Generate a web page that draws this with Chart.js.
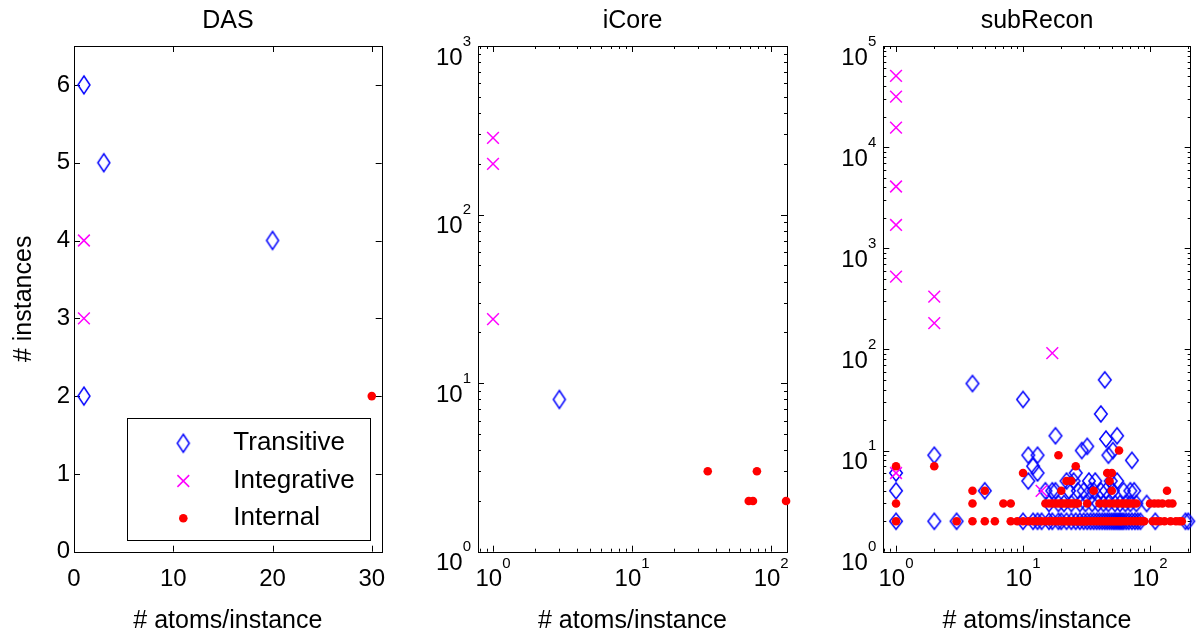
<!DOCTYPE html>
<html>
<head>
<meta charset="utf-8">
<script src="https://cdn.jsdelivr.net/npm/chart.js@4"></script>
<style>
  html, body { margin: 0; padding: 0; background: #fff; }
  #wrap { position: relative; width: 1202px; height: 636px; }
  canvas { position: absolute; top: 0; }
</style>
</head>
<body>
<div id="wrap">
  <canvas id="das" width="400" height="636" style="left:0"></canvas>
  <canvas id="icore" width="410" height="636" style="left:400px"></canvas>
  <canvas id="subrecon" width="392" height="636" style="left:810px"></canvas>
</div>
<script>
const seriesLabels = ['Transitive', 'Integrative', 'Internal'];

// DAS (linear axes)
const dasTicksX = [0, 10, 20, 30];
const dasTicksY = [0, 1, 2, 3, 4, 5, 6];
const dasTransitive = [[1, 6], [3, 5], [20, 4], [1, 2]];
const dasIntegrative = [[1, 4], [1, 3]];
const dasInternal = [[30, 2]];

// iCore (log axes)
const icoreTicksX = [1, 10, 100];
const icoreTicksY = [1, 10, 100, 1000];
const icoreTransitive = [[3, 8]];
const icoreIntegrative = [[1, 285], [1, 200], [1, 24]];
const icoreInternal = [[35, 3], [79, 3], [69, 2], [74, 2], [128, 2]];

// subRecon (log axes)
const subTicksX = [1, 10, 100];
const subTicksY = [1, 10, 100, 1000, 10000, 100000];
const subTransitive = [
  [1, 2], [1, 4], [1, 6], [2, 2], [2, 9], [3, 2], [4, 46], [5, 4],
  [10, 32], [10, 2], [11, 9], [11, 5], [12, 2], [12, 7], [13, 9], [13, 6], [13, 2], [14, 2],
  [15, 4], [16, 2], [16, 3], [17, 4], [17, 2], [18, 14], [18, 4], [19, 3], [19, 2], [20, 2],
  [21, 3], [22, 5], [22, 2], [23, 4], [24, 3], [24, 2], [25, 5], [26, 6], [26, 2], [27, 4],
  [28, 3], [28, 2], [29, 10], [30, 4], [30, 2], [31, 3], [32, 11], [32, 2], [33, 5], [34, 4],
  [34, 2], [35, 3], [36, 4], [36, 2], [37, 5], [38, 2], [39, 3], [40, 2], [41, 23], [41, 4],
  [42, 2], [43, 3], [44, 50], [44, 2], [45, 13], [45, 4], [46, 2], [47, 9], [47, 3], [48, 2],
  [49, 5], [50, 2], [51, 10], [51, 4], [52, 2], [53, 3], [54, 2], [55, 14], [55, 5], [56, 2],
  [58, 3], [58, 2], [60, 2], [62, 4], [62, 2], [64, 3], [65, 2], [68, 2], [70, 4], [70, 3],
  [72, 8], [72, 2], [75, 4], [76, 2], [78, 3], [80, 2], [84, 2], [94, 3], [110, 2], [190, 2], [200, 2]
];
const subIntegrative = [
  [1, 50700], [1, 31600], [1, 15600], [1, 4080], [1, 1700], [1, 525], [1, 6],
  [2, 333], [2, 182], [14, 4], [17, 92]
];
const subInternal = [
  [1, 7], [1, 3], [1, 2], [2, 7], [3, 2], [4, 4], [4, 3], [4, 2], [5, 4], [5, 2], [6, 2],
  [7, 3], [8, 3], [8, 2], [9, 2], [10, 6], [10, 2], [11, 2], [12, 2], [13, 2], [14, 2],
  [15, 3], [15, 2], [16, 3], [16, 2], [17, 3], [17, 2], [18, 3], [18, 2], [19, 9], [19, 3],
  [19, 2], [20, 4], [20, 3], [20, 2], [21, 3], [21, 2], [22, 5], [22, 3], [22, 2], [23, 3],
  [23, 2], [24, 5], [24, 3], [24, 2], [25, 3], [25, 2], [26, 7], [26, 3], [26, 2], [27, 3],
  [27, 2], [28, 2], [29, 2], [30, 2], [31, 2], [32, 3], [32, 2], [34, 2], [36, 4], [36, 2],
  [38, 2], [40, 3], [40, 2], [42, 2], [44, 3], [44, 2], [46, 6], [46, 2], [48, 5], [48, 3],
  [48, 2], [50, 6], [50, 4], [50, 2], [52, 3], [52, 2], [54, 2], [56, 3], [56, 2], [57, 10],
  [58, 2], [60, 3], [60, 2], [63, 3], [63, 2], [66, 3], [66, 2], [70, 3], [70, 2], [74, 3],
  [74, 2], [78, 3], [78, 2], [82, 2], [86, 2], [90, 2], [100, 3], [105, 2], [108, 3], [112, 2],
  [116, 3], [120, 2], [125, 3], [130, 2], [136, 4], [140, 3], [145, 2], [150, 3], [160, 2],
  [170, 2], [178, 2]
];

const FONT = "'Liberation Sans', Arial, Helvetica, sans-serif";
Chart.defaults.font.family = FONT;
Chart.defaults.color = '#000';

function makeDiamond(hw, hh) {
  const c = document.createElement('canvas');
  c.width = 2 * Math.ceil(hw + 2);
  c.height = 2 * Math.ceil(hh + 2);
  const g = c.getContext('2d');
  const cx = c.width / 2, cy = c.height / 2;
  g.strokeStyle = '#0000ff';
  g.lineWidth = 1.5;
  g.beginPath();
  g.moveTo(cx, cy - hh);
  g.lineTo(cx + hw, cy);
  g.lineTo(cx, cy + hh);
  g.lineTo(cx - hw, cy);
  g.closePath();
  g.stroke();
  return c;
}
const tallDiamond = makeDiamond(6, 9);
const shortDiamond = makeDiamond(6.3, 8);

function series(data, kind, diamond) {
  const base = { label: seriesLabels[kind], data: data.map(([x, y]) => ({ x, y })), clip: false };
  if (kind === 0) return { ...base, pointStyle: diamond, pointRadius: 6, order: 3 };
  if (kind === 1) return { ...base, pointStyle: 'crossRot', pointRadius: 8.3, borderColor: '#ff00ff', borderWidth: 1.5, order: 2 };
  return { ...base, pointStyle: 'circle', pointRadius: 4.3, backgroundColor: '#ff0000', borderColor: '#ff0000', borderWidth: 0, order: 1 };
}

function minorValues(s) {
  const out = [];
  for (let e = Math.floor(Math.log10(s.min)); e <= Math.ceil(Math.log10(s.max)); e++) {
    for (let k = 2; k <= 9; k++) {
      const v = k * Math.pow(10, e);
      if (v >= s.min && v <= s.max) out.push(v);
    }
  }
  return out;
}

// box round the plot with inward ticks on all four sides, like matlab
const framePlugin = {
  id: 'frame',
  beforeDatasetsDraw(chart) {
    const { ctx, chartArea: a, scales } = chart;
    ctx.save();
    ctx.strokeStyle = '#000';
    ctx.lineWidth = 1;
    ctx.strokeRect(Math.round(a.left) + 0.5, Math.round(a.top) + 0.5,
      Math.round(a.right - a.left), Math.round(a.bottom - a.top));
    ctx.beginPath();
    for (const s of [scales.x, scales.y]) {
      const marks = s.ticks.map(t => [t.value, 6]);
      if (s.type === 'logarithmic') minorValues(s).forEach(v => marks.push([v, 3]));
      for (const [v, len] of marks) {
        const p = Math.round(s.getPixelForValue(v)) + 0.5;
        if (s.isHorizontal()) {
          ctx.moveTo(p, a.bottom); ctx.lineTo(p, a.bottom - len);
          ctx.moveTo(p, a.top); ctx.lineTo(p, a.top + len);
        } else {
          ctx.moveTo(a.left, p); ctx.lineTo(a.left + len, p);
          ctx.moveTo(a.right, p); ctx.lineTo(a.right - len, p);
        }
      }
    }
    ctx.stroke();
    ctx.restore();
  }
};

// "10" with a raised exponent for the log axes
const powerLabels = {
  id: 'powerLabels',
  afterDraw(chart) {
    const { ctx, chartArea: a, scales } = chart;
    ctx.save();
    ctx.fillStyle = '#000';
    ctx.textAlign = 'left';
    ctx.textBaseline = 'alphabetic';
    for (const s of [scales.x, scales.y]) {
      if (s.type !== 'logarithmic') continue;
      for (const t of s.ticks) {
        const exp = String(Math.round(Math.log10(t.value)));
        ctx.font = '24px ' + FONT;
        const wb = ctx.measureText('10').width;
        ctx.font = '15px ' + FONT;
        const we = ctx.measureText(exp).width;
        const p = s.getPixelForValue(t.value);
        let bx, by, ex, ey;
        if (s.isHorizontal()) {
          bx = p - (wb + we) / 2; by = a.bottom + 34.5;
          ex = bx + wb; ey = a.bottom + 16;
        } else {
          ex = a.left - 7 - we; bx = ex - wb;
          by = p + 18.5; ey = p - 0.5;
        }
        ctx.font = '24px ' + FONT;
        ctx.fillText('10', bx, by);
        ctx.font = '15px ' + FONT;
        ctx.fillText(exp, ex, ey);
      }
    }
    ctx.restore();
  }
};

function drawMarker(ctx, ds, x, y) {
  const st = ds.pointStyle;
  if (typeof st === 'object') {
    ctx.drawImage(st, x - st.width / 2, y - st.height / 2);
    return;
  }
  ctx.beginPath();
  if (st === 'crossRot') {
    const d = ds.pointRadius * Math.SQRT1_2;
    ctx.moveTo(x - d, y - d); ctx.lineTo(x + d, y + d);
    ctx.moveTo(x + d, y - d); ctx.lineTo(x - d, y + d);
    ctx.strokeStyle = ds.borderColor;
    ctx.lineWidth = ds.borderWidth;
    ctx.stroke();
  } else {
    ctx.arc(x, y, ds.pointRadius, 0, Math.PI * 2);
    ctx.fillStyle = ds.backgroundColor;
    ctx.fill();
  }
}

// boxed legend inside the DAS axes
const boxLegend = {
  id: 'boxLegend',
  afterDraw(chart, args, opts) {
    const { ctx } = chart;
    const [l, t, r, b] = opts.box;
    ctx.save();
    ctx.fillStyle = '#fff';
    ctx.fillRect(l, t, r - l, b - t);
    ctx.strokeStyle = '#000';
    ctx.lineWidth = 1;
    ctx.strokeRect(Math.round(l) + 0.5, Math.round(t) + 0.5, Math.round(r - l), Math.round(b - t));
    chart.data.datasets.forEach((ds, i) => {
      const y = opts.rows[i];
      drawMarker(ctx, ds, opts.markerX, y);
      ctx.fillStyle = '#000';
      ctx.font = '26px ' + FONT;
      ctx.textAlign = 'left';
      ctx.textBaseline = 'middle';
      ctx.fillText(ds.label, opts.textX, y);
    });
    ctx.restore();
  }
};

function makeAxis(o) {
  return {
    type: o.type,
    min: o.min,
    max: o.max,
    afterBuildTicks: s => { s.ticks = o.ticks.map(v => ({ value: v })); },
    afterFit: s => { if (s.isHorizontal()) s.height = o.size; else s.width = o.size; },
    grid: { display: false, drawTicks: false },
    border: { display: false },
    ticks: { display: o.type === 'linear', padding: o.pad || 0, font: { size: 24 }, color: '#000', autoSkip: false, maxRotation: 0 },
    title: { display: !!o.title, text: o.title || '', font: { size: 25 }, color: '#000', padding: o.titlePad || { top: 0, bottom: 0 } }
  };
}

function panel(id, title, datasets, x, y, pad, extraPlugins, pluginOpts) {
  new Chart(document.getElementById(id), {
    type: 'scatter',
    data: { datasets },
    options: {
      responsive: false,
      animation: false,
      events: [],
      layout: { padding: pad },
      scales: { x: makeAxis(x), y: makeAxis(y) },
      plugins: Object.assign({
        legend: { display: false },
        tooltip: { enabled: false },
        title: {
          display: true, text: title, fullSize: false, color: '#000',
          font: { size: 25, weight: 'normal' }, padding: { top: 6, bottom: 10 }
        }
      }, pluginOpts || {})
    },
    plugins: [framePlugin, powerLabels].concat(extraPlugins || [])
  });
}

panel('das', 'DAS',
  [series(dasTransitive, 0, tallDiamond), series(dasIntegrative, 1), series(dasInternal, 2)],
  { type: 'linear', min: 0, max: 31, ticks: dasTicksX, size: 84.3, pad: 13, title: '# atoms/instance' },
  { type: 'linear', min: 0, max: 6.5, ticks: dasTicksY, size: 74, pad: 4, title: '# instances', titlePad: { top: 9, bottom: 0 } },
  { left: 0, right: 18.3, top: 0, bottom: 0 },
  [boxLegend],
  { boxLegend: { box: [126.7, 418.3, 369.3, 540.7], markerX: 183.3, textX: 233.3, rows: [443.3, 481, 518.3] } });

panel('icore', 'iCore',
  [series(icoreTransitive, 0, tallDiamond), series(icoreIntegrative, 1), series(icoreInternal, 2)],
  { type: 'logarithmic', min: 0.78, max: 130, ticks: icoreTicksX, size: 84.3, title: '# atoms/instance' },
  { type: 'logarithmic', min: 1, max: 1000, ticks: icoreTicksY, size: 78 },
  { left: 0, right: 23, top: 0, bottom: 0 });

panel('subrecon', 'subRecon',
  [series(subTransitive, 0, shortDiamond), series(subIntegrative, 1), series(subInternal, 2)],
  { type: 'logarithmic', min: 0.794, max: 209, ticks: subTicksX, size: 84.3, title: '# atoms/instance' },
  { type: 'logarithmic', min: 1, max: 100000, ticks: subTicksY, size: 73.3 },
  { left: 0, right: 11.3, top: 0, bottom: 0 });
</script>
</body>
</html>
